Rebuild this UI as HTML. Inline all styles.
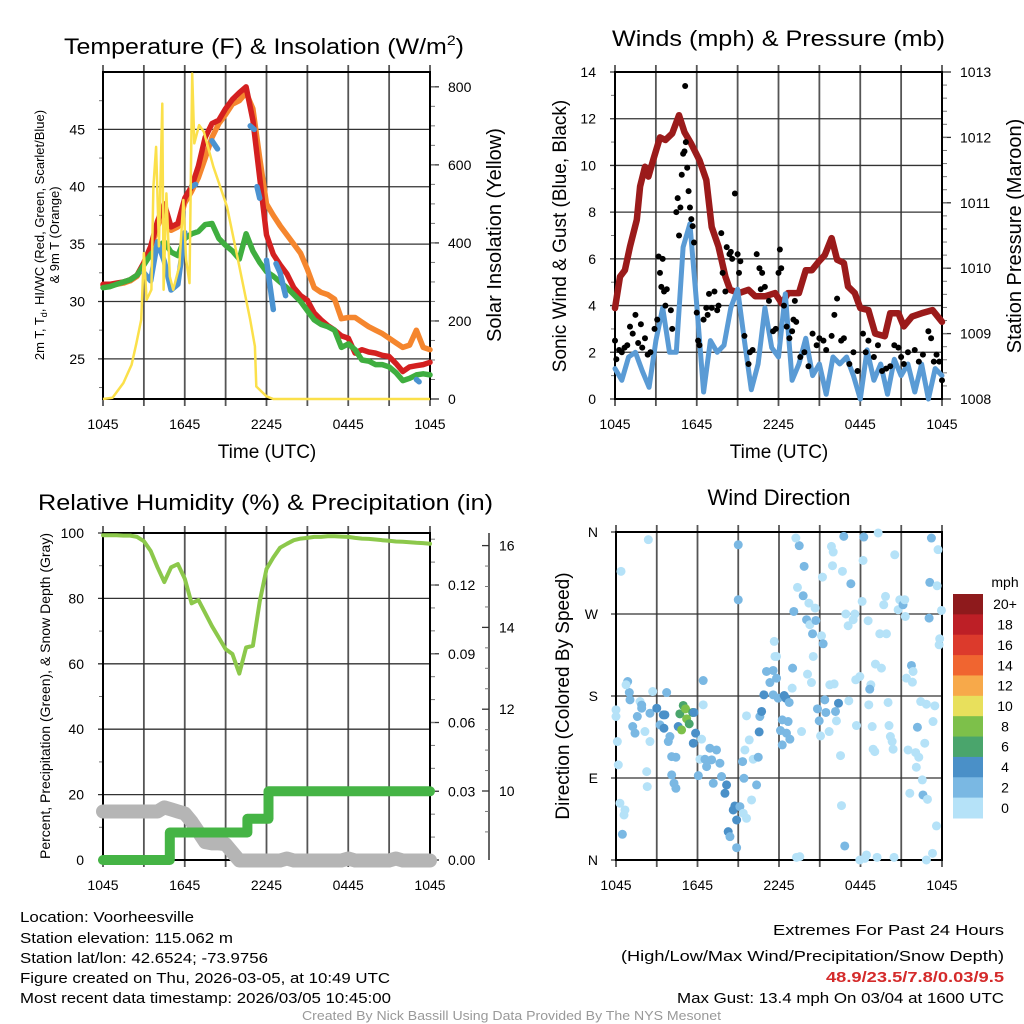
<!DOCTYPE html>
<html><head><meta charset="utf-8"><style>
html,body{margin:0;padding:0;background:#fff;}
svg{display:block;font-family:"Liberation Sans",sans-serif;}
</style></head><body>
<svg id="fig" width="1024" height="1024" viewBox="0 0 1024 1024" xmlns="http://www.w3.org/2000/svg">
<rect x="0" y="0" width="1024" height="1024" fill="#fff"/>
<text x="64" y="54" font-size="22" textLength="400" lengthAdjust="spacingAndGlyphs">Temperature (F) &amp; Insolation (W/m<tspan font-size="14" dy="-9">2</tspan><tspan dy="9">)</tspan></text>
<text x="612" y="46" font-size="22" textLength="333" lengthAdjust="spacingAndGlyphs">Winds (mph) &amp; Pressure (mb)</text>
<text x="38" y="510" font-size="22" textLength="455" lengthAdjust="spacingAndGlyphs">Relative Humidity (%) &amp; Precipitation (in)</text>
<text x="779" y="505" font-size="22" text-anchor="middle">Wind Direction</text>

<g font-size="15">
<text x="20" y="922" textLength="174" lengthAdjust="spacingAndGlyphs">Location: Voorheesville</text>
<text x="20" y="943" textLength="213" lengthAdjust="spacingAndGlyphs">Station elevation: 115.062 m</text>
<text x="20" y="963" textLength="248" lengthAdjust="spacingAndGlyphs">Station lat/lon: 42.6524; -73.9756</text>
<text x="20" y="983" textLength="370" lengthAdjust="spacingAndGlyphs">Figure created on Thu, 2026-03-05, at 10:49 UTC</text>
<text x="20" y="1003" textLength="371" lengthAdjust="spacingAndGlyphs">Most recent data timestamp: 2026/03/05 10:45:00</text>
</g>
<g font-size="15">
<text x="773" y="935" textLength="231" lengthAdjust="spacingAndGlyphs">Extremes For Past 24 Hours</text>
<text x="621" y="961" textLength="383" lengthAdjust="spacingAndGlyphs">(High/Low/Max Wind/Precipitation/Snow Depth)</text>
<text x="826" y="982" font-weight="bold" fill="#d42a2a" textLength="178" lengthAdjust="spacingAndGlyphs">48.9/23.5/7.8/0.03/9.5</text>
<text x="677" y="1003" textLength="327" lengthAdjust="spacingAndGlyphs">Max Gust: 13.4 mph On 03/04 at 1600 UTC</text>
</g>
<text x="302" y="1020" font-size="13" fill="#999" textLength="419" lengthAdjust="spacingAndGlyphs">Created By Nick Bassill Using Data Provided By The NYS Mesonet</text>
</svg>
<script>
// ---------- DATA ----------
const halfHours = [0,0.5,1,1.5,2,2.5,3,3.5,4,4.5,5,5.5,6,6.5,7,7.5,8,8.5,9,9.5,10,10.5,11,11.5,12,12.5,13,13.5,14,14.5,15,15.5,16,16.5,17,17.5,18,18.5,19,19.5,20,20.5,21,21.5,22,22.5,23,23.5,24];
const timeTickLabels = ["1045","1645","2245","0445","1045"];
const tempRed = [31.5,31.5,31.6,31.7,31.9,32.3,33.4,34.8,37.0,38.5,36.5,36.8,39.0,40.0,41.8,44.3,45.5,45.8,46.8,47.6,48.2,48.7,45.8,40.8,35.8,34.1,33.2,32.4,31.2,30.5,30.1,29.0,28.4,27.9,27.5,27.0,26.8,25.5,25.8,25.6,25.5,25.3,25.2,24.6,23.9,24.3,24.4,24.5,24.7];
const tempGreen = [31.2,31.3,31.5,31.7,31.9,32.3,33.2,34.1,34.7,35.2,34.3,34.0,35.5,35.9,36.1,36.7,36.8,35.5,34.9,34.4,33.7,35.9,34.4,33.4,32.6,32.2,31.7,31.2,30.6,30.0,29.2,28.4,28.0,27.8,27.5,26.0,26.3,25.8,24.9,24.8,24.5,24.5,24.3,23.8,23.1,23.3,23.6,23.7,23.6];
const tempOrange = [31.4,31.4,31.5,31.6,31.8,32.2,33.3,34.6,36.5,38.0,36.2,36.5,38.6,39.6,40.8,42.5,44.3,45.5,46.3,47.2,47.5,48.2,46.8,42.5,38.5,37.5,36.6,35.8,35.0,34.2,32.8,31.2,30.8,30.6,30.2,28.5,28.6,28.6,28.2,27.8,27.5,27.2,26.8,26.4,26.0,26.2,27.5,26.0,25.8];
const hiTimes = [3.0,3.5,4.0,4.5,5.0,5.5,6.0,null,6.5,6.8,null,8.0,8.4,null,10.8,11.1,null,11.3,11.5,null,12.0,12.5,null,12.7,13.0,13.4,null,23.0,23.2];
const hiValues = [32.5,31.8,35.2,33.5,31.0,31.5,36.0,null,40.0,40.2,null,44.0,43.3,null,45.3,45.0,null,40.0,39.0,null,33.6,29.3,null,33.3,32.5,30.5,null,23.2,23.0];
const insolTimes = [0,0.7,1.5,2.1,2.45,2.8,3.0,3.2,3.55,3.7,3.9,4.1,4.35,4.45,4.65,4.9,5.15,5.6,5.9,6.1,6.35,6.55,6.7,7.05,7.4,8.1,9.1,10.0,10.8,11.15,11.25,12.0,12.5,24];
const insolValues = [0,3,41,88,143,203,374,254,280,544,646,391,757,280,527,314,280,340,510,357,297,834,655,702,685,595,493,340,203,135,32,7,0,0];
const sonicWind = [1.3,0.8,1.8,2.0,1.2,0.5,2.5,3.9,2.0,2.0,6.5,7.5,4.0,0.3,2.5,2.0,2.3,3.9,4.7,2.5,0.4,1.5,3.9,2.2,1.8,4.5,0.8,1.5,2.6,1.0,1.5,0.2,1.8,1.5,1.8,1.0,0.0,2.1,0.8,1.5,0.2,1.7,1.0,1.5,0.3,1.5,0.0,1.3,1.0];
const gustTimes = [0,0.1,0.3,0.5,0.7,0.9,1.1,1.3,1.5,1.7,1.9,2.0,2.2,2.4,2.6,2.9,3.1,3.2,3.3,3.4,3.5,3.6,3.7,3.8,4.1,4.2,4.5,4.6,4.7,4.8,4.9,5.0,5.1,5.15,5.2,5.3,5.4,5.5,5.6,5.7,5.8,6.0,6.1,6.2,6.5,6.7,6.8,6.9,7.1,7.3,7.5,7.6,7.8,7.9,8.1,8.2,8.4,8.5,8.6,8.8,9.0,9.1,9.2,9.5,9.8,9.9,10.1,10.4,10.6,10.7,10.8,11.0,11.3,11.6,11.8,12.0,12.1,12.2,12.4,12.6,12.8,13.0,13.1,13.2,13.3,13.6,13.9,14.2,14.5,14.8,15.0,15.3,15.5,15.9,16.1,16.3,16.6,16.8,17.2,17.5,17.8,18.2,18.4,18.6,19.0,19.3,19.6,19.9,20.2,20.5,20.8,21.0,21.2,21.5,22.0,22.3,22.6,23.0,23.2,23.4,23.6,23.8,24.0];
const gustValues = [2.5,1.7,2.1,2.0,2.2,2.3,3.1,2.8,3.6,2.4,3.2,2.2,2.6,1.9,2.0,3.0,3.4,6.1,5.4,4.8,6.0,4.6,4.0,4.7,3.8,3.0,8.0,8.6,7.0,8.2,9.6,10.5,10.6,13.4,11.0,9.9,8.9,8.2,7.7,7.4,6.7,3.7,2.5,2.3,3.4,3.9,3.6,4.5,3.9,4.6,3.8,4.0,7.1,5.4,4.6,6.5,6.2,6.3,6.0,8.8,6.2,5.4,5.9,2.7,1.5,2.0,2.1,6.2,5.6,4.7,5.4,4.8,4.2,2.9,3.0,5.4,6.4,5.6,4.0,3.1,2.6,2.9,3.4,4.2,3.3,1.8,2.0,1.4,2.8,2.3,2.6,2.5,2.1,2.7,3.6,4.3,2.5,2.6,1.5,2.0,1.2,2.8,2.0,2.5,1.8,2.3,1.2,1.3,1.4,2.3,2.2,1.8,1.5,2.0,2.1,1.6,1.9,2.9,2.6,1.6,1.9,1.6,0.8];
const pressTimes = [0,0.37,0.73,1.1,1.6,1.84,2.2,2.45,2.8,3.3,3.7,4.2,4.7,5.1,5.6,6.2,6.7,7.1,7.6,8.1,8.45,9.1,9.8,10.3,11.0,11.75,12.25,12.7,13.5,14.0,14.45,14.95,15.4,15.9,16.3,16.8,17.1,17.6,18.0,18.6,19.1,19.8,20.2,20.8,21.2,21.8,22.5,23.3,24];
const pressValues = [1009.39,1009.87,1009.97,1010.33,1010.74,1011.25,1011.55,1011.4,1011.65,1012.0,1011.96,1012.06,1012.34,1012.08,1011.9,1011.65,1011.35,1010.63,1010.33,1009.87,1009.67,1009.62,1009.67,1009.57,1009.57,1009.62,1009.46,1009.62,1009.62,1009.97,1009.97,1010.1,1010.2,1010.46,1010.13,1010.08,1009.72,1009.62,1009.39,1009.36,1009.0,1008.96,1009.31,1009.31,1009.11,1009.26,1009.31,1009.36,1009.18];
const relHumidity = [99.3,99.3,99.3,99.2,99.2,98.8,97.5,94.5,89.5,85,89.5,90.5,86,78.5,79.5,75.5,71.5,68,64.5,63,57,65,65.5,79,89,92.5,95.5,96.7,97.8,98.3,98.5,98.8,98.8,99,99,98.9,98.8,98.5,98.3,98.2,98,97.8,97.6,97.4,97.3,97.2,97,96.9,96.7];
const snowDepth = [9.5,9.5,9.5,9.5,9.5,9.5,9.5,9.5,9.5,9.6,9.55,9.5,9.45,9.25,9.0,8.75,8.72,8.72,8.7,8.5,8.3,8.3,8.3,8.3,8.3,8.3,8.3,8.35,8.3,8.3,8.3,8.3,8.3,8.3,8.3,8.3,8.35,8.3,8.3,8.3,8.3,8.3,8.3,8.35,8.3,8.3,8.3,8.3,8.3];
const precipTimes = [0,4.9,10.6,12.15,24];
const precipValues = [0,0.012,0.018,0.03,0.03];
const dirTimes = [2.38,0.37,0.86,0.98,1.03,0.74,0,0,0.1,0.17,0.29,0.66,0.59,0.47,1.23,1.4,1.57,1.89,1.77,2.13,2.5,2.5,2.7,3.0,3.24,3.48,3.6,3.53,3.73,3.85,3.97,4.1,4.41,4.1,4.27,4.41,2.26,2.3,4.58,4.7,4.83,4.95,5.12,5.2,5.39,5.64,5.74,5.86,5.69,6.3,6.42,6.42,6.18,6.06,6.55,6.67,6.91,7.4,7.04,7.16,7.65,7.77,8.14,8.02,8.26,8.39,8.63,8.75,8.88,8.88,9.12,9.37,9.61,9.42,9.32,9.61,9.98,10.35,9.49,9.81,10.1,10.47,10.54,10.59,10.72,10.89,11.33,11.08,11.82,11.7,11.65,11.57,11.94,12.38,12.5,12.75,13.0,12.97,12.24,12.11,12.67,12.55,12.8,12.24,13.66,13.09,13.49,13.24,13.85,13.36,13.78,14.03,14.27,14.47,14.71,14.2,14.66,15.13,15.25,14.52,14.1,14.39,15.37,14.83,14.96,15.45,15.69,15.06,15.2,15.86,15.99,15.94,16.67,16.77,17.29,15.74,16.06,16.16,16.38,16.23,16.53,16.6,16.84,16.92,17.09,17.46,17.58,17.14,17.65,17.95,17.7,18.12,18.24,18.19,18.56,18.76,18.68,18.61,18.86,18.93,19.05,19.3,19.42,19.1,19.54,19.91,19.84,19.71,20.1,20.03,20.2,20.33,20.4,20.52,20.77,20.89,21.13,21.3,21.26,21.75,21.87,21.38,21.82,22.19,21.5,22.06,22.29,22.11,22.55,22.43,22.85,23.47,23.34,22.73,22.6,22.93,21.63,23.1,23.22,23.05,23.71,23.64,23.96,23.83,23.79,23.59,23.3,22.85,20.47,19.22,18.44,17.95,18.32,13.53,13.29,11.82,9.0,9.0,11.57,1.89];
const dirDegrees = [351.6,316.8,195.9,183.8,175.8,192.3,164.8,157.5,130,104.4,62.3,54.9,49.4,28.2,146.5,139.2,157.5,166.6,173.9,141,130,161.1,184.9,166.6,148.3,159.3,159.3,144.6,183.8,130,135.5,113.5,112.8,93.4,84.2,78.7,97,80.6,146.5,160.4,142.8,169.6,165.9,154.9,149.4,161.9,161.9,139.2,128.2,132.6,197,170.3,110.6,92.6,110.6,102.5,122.7,120.8,109.9,84.2,106.2,91.6,82.4,73.2,31.1,25.6,54.9,59.3,43.9,13.5,58.6,51.3,45.8,89.7,108,158.2,65.9,82.4,120.8,131.8,110.6,112.8,140.6,157.5,163,181.3,194.8,206.9,199.6,223.4,239.9,181.3,177.6,180.5,177.6,172.9,210.6,188.6,153.8,142.1,152,139.2,132.6,126.3,141,272.8,345,353.4,322.3,299.2,290,263.7,258.2,248.3,262.9,282,276.5,246.1,237.3,223.4,204,194.8,175.8,165.9,152.7,161.9,141,136.2,310.5,344.2,338,323,316.8,355.2,303.2,192.3,193.3,163,172.1,152.7,114.6,59.7,15.4,270,257.1,263.7,270,174.7,197.8,201.4,147.6,283.8,354.5,328.8,262.6,192.3,187.5,170.3,146.5,121.6,119,358.9,248.3,215,210.6,248.3,289.3,280.1,147.6,172.9,135.5,130,121.6,335,274.6,285.6,280.1,267.3,285.6,213.5,206.9,199.6,195.2,145.7,120.8,117.9,112.8,101.8,87.9,173.9,171,169.2,152,128.2,71.4,66.6,73.2,304.7,353.4,265.5,340.6,301,273.9,242.8,236.2,37.4,7.3,0,2.9,2.9,5.5,0,1.8,3.7,2.9,223.4,285.6,346,208,170];
const dirSpeeds = [
 1,1,2.8,2.8,2.8,1,1,1,1,1,
 1,1,1,2.8,2.8,2.8,2.8,2.8,1,1,
 1,2.8,1,4.5,2.8,4.5,4.5,4.5,2.8,2.8,
 2.8,2.8,2.8,2.8,2.8,2.8,1,1,4.5,6.5,
 8.5,6.5,8.5,8.5,6.5,6.5,4.5,4.5,4.5,1,
 2.8,1,1,2.8,2.8,2.8,2.8,2.8,2.8,2.8,
 2.8,2.8,4.5,4.5,4.5,2.8,4.5,4.5,4.5,2.8,
 2.8,1,1,2.8,2.8,1,1,2.8,1,1,
 1,2.8,4.5,2.8,4.5,4.5,2.8,2.8,2.8,1,
 1,2.8,2.8,4.5,4.5,2.8,2.8,1,2.8,2.8,
 2.8,2.8,2.8,2.8,1,2.8,2.8,1,2.8,1,
 2.8,2.8,1,2.8,2.8,1,1,1,2.8,1,
 1,1,2.8,2.8,2.8,2.8,1,1,1,1,
 1,1,1,2.8,2.8,1,1,2.8,4.5,1,
 1,1,2.8,1,1,1,1,1,1,1,
 1,1,2.8,1,1,1,2.8,1,1,1,
 1,1,1,1,1,1,1,1,1,1,
 1,1,1,1,1,1,2.8,1,1,2.8,
 1,1,1,2.8,1,1,1,1,1,1,
 1,1,1,1,2.8,1,1,2.8,2.8,2.8,
 1,1,1,1,1,1,1,1,1,1,
 1,1,1,1,1,1,2.8,2.8,2.8,2.8];
const speedLabels = ["20+","18","16","14","12","10","8","6","4","2","0"];
const speedColors = ["#8e1a1c","#bd1f26","#dc3a2c","#f06530","#f7a94a","#e8e05c","#7dc04a","#4aa56c","#4a90c8","#7ab8e3","#b5e2f8"];
const dirLabels = ["N","W","S","E","N"];

// ---------- DRAWING ----------
const NS = "http://www.w3.org/2000/svg";
const svg = document.getElementById("fig");
function mk(tag, attrs, parent) {
  const e = document.createElementNS(NS, tag);
  for (const k in attrs) e.setAttribute(k, attrs[k]);
  (parent || svg).appendChild(e);
  return e;
}
function grp(name) {
  const g = mk("g", {});
  
  
  return g;
}
function txt(g, x, y, s, size, anchor, extra) {
  const t = mk("text", Object.assign({x: x, y: y, "font-size": size, "text-anchor": anchor || "start"}, extra || {}), g);
  t.textContent = s;
  return t;
}
function ln(g, x1, y1, x2, y2, col, w) {
  return mk("line", {x1: x1, y1: y1, x2: x2, y2: y2, stroke: col, "stroke-width": w}, g);
}
function pathFrom(xs, ys, sx, sy) {
  let d = "", pen = false;
  for (let i = 0; i < xs.length; i++) {
    if (xs[i] === null || ys[i] === null) { pen = false; continue; }
    d += (pen ? "L" : "M") + sx(xs[i]).toFixed(1) + "," + sy(ys[i]).toFixed(1);
    pen = true;
  }
  return d;
}

function frame(g, P, leftTicks, leftMinor, sy, rightTicks, rightMinor, syR) {
  const sx = t => P.x0 + t / 24 * (P.x1 - P.x0);
  for (let i = 0; i <= 8; i++) {
    const x = sx(i * 3);
    ln(g, x, P.y0 - 7, x, P.y1 + 7, "#555", 1.8);
  }
  leftTicks.forEach(v => { ln(g, P.x0 - 5, sy(v), P.x1, sy(v), "#333", 1.3); });
  leftMinor.forEach(v => { ln(g, P.x0 - 4, sy(v), P.x0, sy(v), "#777", 1); });
  if (rightTicks) {
    rightTicks.forEach(v => { ln(g, P.x1, syR(v), P.x1 + 9, syR(v), "#333", 1.3); });
    rightMinor.forEach(v => { ln(g, P.x1, syR(v), P.x1 + 5, syR(v), "#777", 1); });
  }
  mk("rect", {x: P.x0, y: P.y0, width: P.x1 - P.x0, height: P.y1 - P.y0, fill: "none", stroke: "#000", "stroke-width": 2}, g);
  timeTickLabels.forEach((s, i) => {
    const t = txt(g, sx(i * 6), P.y1 + 30, s, 14, "middle");
    
    
  });
  return sx;
}
function range(a, b, s) { const r = []; for (let v = a; v <= b + 1e-9; v += s) r.push(+v.toFixed(3)); return r; }

// ===== Panel 1: Temperature =====
{
  const P = {x0: 103, x1: 430, y0: 72, y1: 399};
  const g = grp("temperature-panel");
  const sy = v => P.y1 - (v - 21.5) / 28.5 * (P.y1 - P.y0);
  const syR = v => P.y1 - v / 838 * (P.y1 - P.y0);
  const sx = frame(g, P, [25,30,35,40,45], range(22.5, 47.5, 5), sy, [0,200,400,600,800], range(50, 800, 50), syR);
  [25,30,35,40,45].forEach(v => { const t = txt(g, P.x0 - 18, sy(v) + 5, String(v), 14, "end");   });
  [0,200,400,600,800].forEach(v => { const t = txt(g, P.x1 + 18, syR(v) + 5, String(v), 14, "start");   });
  const clip = mk("clipPath", {id: "c1"}, g); mk("rect", {x: P.x0 - 6, y: P.y0 - 2, width: P.x1 - P.x0 + 12, height: P.y1 - P.y0 + 4}, clip);
  const lg = mk("g", {"clip-path": "url(#c1)"}, g);
  const series = [["temp-9m-orange", tempOrange, "#f5862e"], ["temp-2m-red", tempRed, "#d42020"], ["dewpoint-green", tempGreen, "#3fae3f"]];
  series.forEach(s => {
    const p = mk("path", {d: pathFrom(halfHours, s[1], sx, sy), fill: "none", stroke: s[2], "stroke-width": 5.5, "stroke-linejoin": "round", "stroke-linecap": "round"}, lg);
    
    
  });
  const hb = mk("path", {d: pathFrom(hiTimes, hiValues, sx, sy), fill: "none", stroke: "#4b93d1", "stroke-width": 5.5, "stroke-linejoin": "round", "stroke-linecap": "round"}, lg);
  
  
  const ins = mk("path", {d: pathFrom(insolTimes, insolValues, sx, syR), fill: "none", stroke: "#fbe04a", "stroke-width": 2.5, "stroke-linejoin": "round"}, lg);
  
  
  const a = txt(g, 0, 0, "2m T, T", 13, "middle", {transform: "translate(44,235) rotate(-90)"});
  a.innerHTML = "2m T, T<tspan font-size='9' dy='3'>d</tspan><tspan dy='-3'>, HI/WC (Red, Green, Scarlet/Blue)</tspan>";
  
  
  const b = txt(g, 0, 0, "& 9m T (Orange)", 13, "middle", {transform: "translate(59,235) rotate(-90)"});
  
  
  const c = txt(g, 0, 0, "Solar Insolation (Yellow)", 20, "middle", {transform: "translate(501,235) rotate(-90)"});
  
  
  const d = txt(g, 267, 458, "Time (UTC)", 19, "middle");
  
  
}

// ===== Panel 2: Wind & Pressure =====
{
  const P = {x0: 615, x1: 942, y0: 72, y1: 399};
  const g = grp("wind-pressure-panel");
  const sy = v => P.y1 - v / 14 * (P.y1 - P.y0);
  const syR = v => P.y1 - (v - 1008) / 5 * (P.y1 - P.y0);
  const sx = frame(g, P, [0,2,4,6,8,10,12,14], range(1, 13, 2), sy, [1008,1009,1010,1011,1012,1013], range(1008.2, 1012.8, 0.2), syR);
  [0,2,4,6,8,10,12,14].forEach(v => { const t = txt(g, P.x0 - 19, sy(v) + 5, String(v), 14, "end");   });
  [1008,1009,1010,1011,1012,1013].forEach(v => { const t = txt(g, P.x1 + 18, syR(v) + 5, String(v), 14, "start");   });
  const pr = mk("path", {d: pathFrom(pressTimes, pressValues, sx, syR), fill: "none", stroke: "#9b1b1b", "stroke-width": 6.5, "stroke-linejoin": "round", "stroke-linecap": "round"}, g);
  
  
  const sw = mk("path", {d: pathFrom(halfHours, sonicWind, sx, sy), fill: "none", stroke: "#5a9bd5", "stroke-width": 5, "stroke-linejoin": "round", "stroke-linecap": "round"}, g);
  
  
  gustTimes.forEach((t, i) => {
    const c = mk("circle", {cx: sx(t), cy: sy(gustValues[i]), r: 3, fill: "#000"}, g);
    
    
  });
  const a = txt(g, 0, 0, "Sonic Wind & Gust (Blue, Black)", 19, "middle", {transform: "translate(566,236) rotate(-90)"});
  
  
  const b = txt(g, 0, 0, "Station Pressure (Maroon)", 20, "middle", {transform: "translate(1021,236) rotate(-90)"});
  
  
  const d = txt(g, 779, 458, "Time (UTC)", 19, "middle");
  
  
}

// ===== Panel 3: RH & Precip =====
{
  const P = {x0: 103, x1: 430, y0: 533, y1: 860};
  const g = grp("humidity-precip-panel");
  const sy = v => P.y1 - v / 100 * (P.y1 - P.y0);
  const syR = v => P.y1 - v / 0.1427 * (P.y1 - P.y0);
  const sySnow = v => 791 - (v - 10) * 40.9;
  const sx = frame(g, P, [0,20,40,60,80,100], range(10, 90, 20), sy, [0,0.03,0.06,0.09,0.12], range(0.01, 0.14, 0.01), syR);
  [0,20,40,60,80,100].forEach(v => { const t = txt(g, P.x0 - 19, sy(v) + 5, String(v), 14, "end");   });
  [0,0.03,0.06,0.09,0.12].forEach(v => { const t = txt(g, P.x1 + 18, syR(v) + 5, v.toFixed(2), 14, "start");   });
  ln(g, 489, 533, 489, 860, "#333", 1.5);
  [10,12,14,16].forEach(v => {
    ln(g, 489, sySnow(v), 482, sySnow(v), "#333", 1.3);
    const t = txt(g, 499, sySnow(v) + 5, String(v), 14, "start");
    
    
  });
  range(9, 16, 0.5).forEach(v => { if (v % 2) ln(g, 489, sySnow(v), 485, sySnow(v), "#777", 1); });
  const sn = mk("path", {d: pathFrom(halfHours, snowDepth, sx, sySnow), fill: "none", stroke: "#b5b5b5", "stroke-width": 14, "stroke-linejoin": "round", "stroke-linecap": "round"}, g);
  
  
  let d = "";
  for (let i = 0; i < precipTimes.length - 1; i++) {
    d += (i ? "L" : "M") + sx(precipTimes[i]).toFixed(1) + "," + syR(precipValues[i]).toFixed(1) + "L" + sx(precipTimes[i + 1]).toFixed(1) + "," + syR(precipValues[i]).toFixed(1);
  }
  const pc = mk("path", {d: d, fill: "none", stroke: "#45b445", "stroke-width": 10, "stroke-linejoin": "round", "stroke-linecap": "round"}, g);
  
  
  const rh = mk("path", {d: pathFrom(halfHours, relHumidity, sx, sy), fill: "none", stroke: "#8cc84b", "stroke-width": 4, "stroke-linejoin": "round", "stroke-linecap": "round"}, g);
  
  
  const a = txt(g, 0, 0, "Percent, Precipitation (Green), & Snow Depth (Gray)", 14, "middle", {transform: "translate(50,696) rotate(-90)"});
  
  
}

// ===== Panel 4: Wind direction =====
{
  const P = {x0: 616, x1: 942, y0: 532, y1: 860};
  const g = grp("wind-direction-panel");
  const sy = v => P.y1 - v / 360 * (P.y1 - P.y0);
  const sx = frame(g, P, [0,90,180,270,360], [], sy);
  dirLabels.forEach((s, i) => { const t = txt(g, P.x0 - 18, sy(360 - i * 90) + 5, s, 14, "end");   });
  dirTimes.forEach((t, i) => {
    const sp = dirSpeeds[i] === undefined ? 1 : dirSpeeds[i];
    const bin = Math.min(10, Math.floor(sp / 2));
    const c = mk("circle", {cx: sx(t), cy: sy(dirDegrees[i]), r: 4.5, fill: speedColors[10 - bin]}, g);
    
    
  });
  const a = txt(g, 0, 0, "Direction (Colored By Speed)", 19, "middle", {transform: "translate(569,696) rotate(-90)"});
  
  
  const lg = grp("speed-colorbar");
  const h = 224 / 11;
  speedColors.forEach((c, i) => {
    const r = mk("rect", {x: 953, y: 594 + i * h, width: 30, height: h + 0.5, fill: c}, lg);
    
    
    const t = txt(lg, 1005, 594 + i * h + h / 2 + 5, speedLabels[i], 14, "middle");
    
    
  });
  const u = txt(lg, 1005, 587, "mph", 14, "middle");
  
  
}
</script>
</body></html>
